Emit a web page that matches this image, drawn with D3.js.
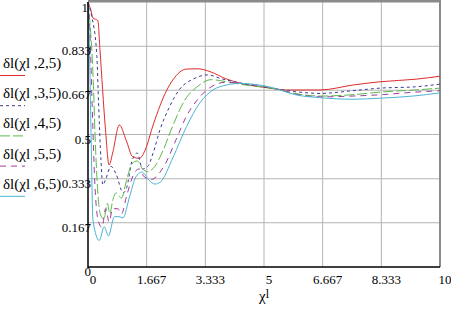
<!DOCTYPE html>
<html><head><meta charset="utf-8">
<script src="https://cdn.jsdelivr.net/npm/d3@7"></script>
<style>body{margin:0;background:#fff}svg{display:block}svg text{font-family:"Liberation Serif",serif !important}</style>
</head><body>
<script>
const xTicks = [0, 1.667, 3.333, 5, 6.667, 8.333, 10];
const xTickLabels = ["0", "1.667", "3.333", "5", "6.667", "8.333", "10"];
const yTicks = [0, 0.167, 0.333, 0.5, 0.667, 0.833, 1];
const yTickLabels = ["0", "0.167", "0.333", "0.5", "0.667", "0.833", "1"];
const seriesNames = ["δl(χl ,2,5)", "δl(χl ,3,5)", "δl(χl ,4,5)", "δl(χl ,5,5)", "δl(χl ,6,5)"];
const seriesColors = ["#e02a2a", "#3c3c96", "#5cb84a", "#a03c9c", "#4cb4d4"];
const seriesDash = [null, "3,3", "10,3", "6,5", null];

const s2x = [0,0.08,0.14,0.28,0.34,0.49,0.6,0.7,0.89,1.08,1.27,1.46,1.62,1.86,2.24,2.41,2.8,3.13,3.47,3.94,4.32,5.17,5.64,6.59,7.54,8.3,9.34,10];
const s2y = [1,0.97,0.94,0.93,0.82,0.53,0.385,0.43,0.536,0.48,0.416,0.41,0.44,0.54,0.668,0.706,0.747,0.748,0.737,0.709,0.694,0.675,0.668,0.668,0.687,0.699,0.709,0.72];

const s3x = [0,0.1,0.25,0.3,0.37,0.42,0.5,0.65,0.8,1.0,1.1,1.25,1.4,1.55,1.7,1.85,2.05,2.3,2.6,3.0,3.4,3.8,4.3,5.2,6.0,6.6,7.5,8.3,9.3,10];
const s3y = [1,0.95,0.8,0.62,0.4,0.31,0.33,0.38,0.35,0.28,0.3,0.4,0.43,0.37,0.38,0.43,0.52,0.6,0.67,0.71,0.725,0.71,0.695,0.675,0.66,0.655,0.665,0.675,0.68,0.69];

const s4x = [0,0.05,0.15,0.2,0.27,0.35,0.45,0.55,0.62,0.7,0.8,0.95,1.1,1.25,1.4,1.55,1.7,1.9,2.1,2.4,2.75,3.1,3.5,3.9,4.3,5.2,6.0,6.6,7.5,8.3,9.3,10];
const s4y = [1,0.93,0.7,0.5,0.3,0.2,0.18,0.24,0.2,0.25,0.28,0.26,0.33,0.39,0.4,0.37,0.36,0.38,0.43,0.53,0.63,0.68,0.707,0.7,0.69,0.675,0.652,0.645,0.65,0.66,0.668,0.675];

const s5x = [0,0.05,0.12,0.2,0.3,0.4,0.5,0.6,0.7,0.85,0.95,1.1,1.3,1.45,1.6,1.8,2.0,2.2,2.5,2.8,3.1,3.5,3.9,4.3,5.2,6.0,6.6,7.5,8.3,9.3,10];
const s5y = [1,0.9,0.6,0.3,0.17,0.15,0.22,0.17,0.22,0.22,0.2,0.27,0.35,0.37,0.34,0.33,0.35,0.39,0.48,0.57,0.63,0.68,0.697,0.693,0.677,0.65,0.642,0.645,0.65,0.66,0.665];

const s6x = [0,0.03,0.085,0.14,0.32,0.46,0.58,0.75,0.88,0.99,1.19,1.36,1.53,1.73,1.9,2.05,2.42,2.8,3.18,3.55,3.94,4.32,5.17,5.93,6.59,7.53,8.3,9.23,10];
const s6y = [1,0.89,0.517,0.177,0.1,0.152,0.117,0.19,0.19,0.185,0.27,0.34,0.358,0.328,0.313,0.32,0.415,0.53,0.62,0.668,0.687,0.693,0.679,0.649,0.639,0.633,0.637,0.645,0.657];

const allX = [s2x, s3x, s4x, s5x, s6x];
const allY = [s2y, s3y, s4y, s5y, s6y];

const FONT = "Liberation Serif, serif";
const W = 451, H = 312;
const svg = d3.select("body").append("svg").attr("width", W).attr("height", H)
  .style("font-family", FONT);
const x = d3.scaleLinear().domain([0, 10]).range([88, 440]);
const y = d3.scaleLinear().domain([0, 1]).range([267, 2]);

function txt(sel, size) {
  return sel.style("font-family", FONT).style("font-size", size + "px").attr("fill", "#000");
}

// grid
svg.append("g").selectAll("line").data(xTicks.slice(1, -1)).join("line")
  .attr("x1", d => x(d)).attr("x2", d => x(d)).attr("y1", y(0)).attr("y2", y(1))
  .attr("stroke", "#b4b4b4").attr("stroke-width", 1);
svg.append("g").selectAll("line").data(yTicks.slice(1, -1)).join("line")
  .attr("x1", x(0)).attr("x2", x(10)).attr("y1", d => y(d)).attr("y2", d => y(d))
  .attr("stroke", "#b4b4b4").attr("stroke-width", 1);

// frame top/right
svg.append("line").attr("x1", x(0)).attr("x2", x(10) + 1).attr("y1", 1).attr("y2", 1)
  .attr("stroke", "#8a8a8a").attr("stroke-width", 3);
svg.append("line").attr("x1", x(10)).attr("x2", x(10)).attr("y1", 0).attr("y2", y(0))
  .attr("stroke", "#8a8a8a").attr("stroke-width", 2);

// curves
const line = d3.line().x(d => x(d[0])).y(d => y(d[1])).curve(d3.curveMonotoneX);
allX.forEach((xs, i) => {
  const pts = xs.map((v, j) => [v, allY[i][j]]);
  svg.append("path").attr("d", line(pts)).attr("fill", "none")
    .attr("stroke", seriesColors[i]).attr("stroke-width", 1)
    .attr("stroke-dasharray", seriesDash[i]);
});

// axes
svg.append("line").attr("x1", x(0)).attr("x2", x(0)).attr("y1", y(1)).attr("y2", y(0) + 1)
  .attr("stroke", "#000").attr("stroke-width", 1.5);
svg.append("line").attr("x1", x(0)).attr("x2", x(10)).attr("y1", y(0)).attr("y2", y(0))
  .attr("stroke", "#000").attr("stroke-width", 1.5);

// tick labels
txt(svg.append("g").selectAll("text").data(yTicks).join("text"), 13)
  .attr("x", d => d === 1 ? 88 : 91).attr("y", d => Math.max(y(d) + 9, 12)).attr("text-anchor", "end")
  .text((d, i) => yTickLabels[i]);
txt(svg.append("g").selectAll("text").data(xTicks).join("text"), 13)
  .attr("x", d => x(d) + 5).attr("y", 284).attr("text-anchor", "middle")
  .text((d, i) => xTickLabels[i]);

// x label
const xl = txt(svg.append("text"), 15).attr("x", 264).attr("y", 301).attr("text-anchor", "middle");
xl.append("tspan").text("χ");
xl.append("tspan").attr("dy", -3).style("font-size", "12px").text("l");

// legend
seriesNames.forEach((n, i) => {
  const by = 68 + i * 30.2;
  txt(svg.append("text"), 15).attr("x", 3).attr("y", by).text(n);
  svg.append("line").attr("x1", 0).attr("x2", 25).attr("y1", by + 7.5).attr("y2", by + 7.5)
    .attr("stroke", seriesColors[i]).attr("stroke-width", 1)
    .attr("stroke-dasharray", seriesDash[i]);
});
</script>
</body></html>
